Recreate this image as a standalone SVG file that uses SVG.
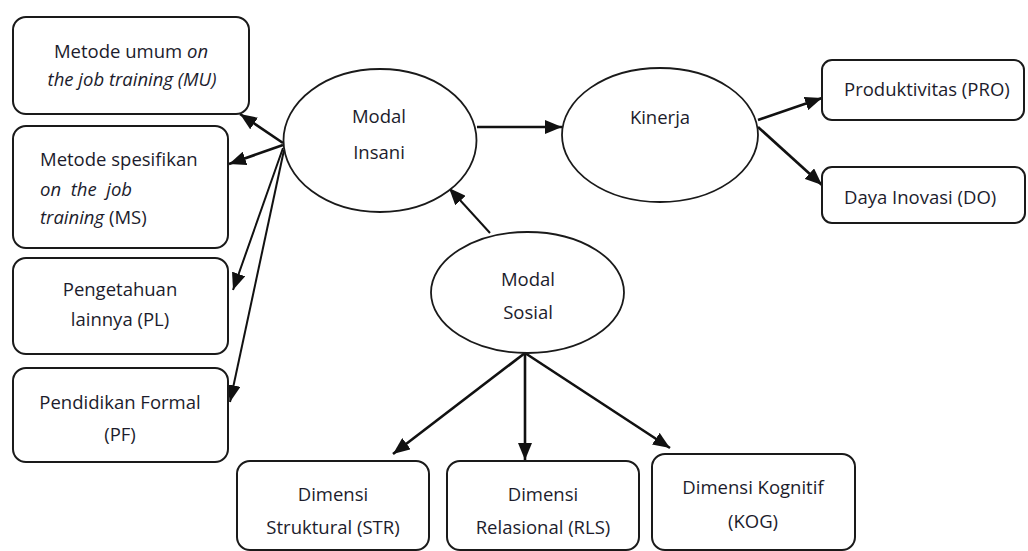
<svg xmlns="http://www.w3.org/2000/svg" width="1028" height="551" viewBox="0 0 1028 551">
<style>
.box{fill:#fff;stroke:#1a1a1a;stroke-width:2}
.ell{fill:#fff;stroke:#1a1a1a;stroke-width:1.8}
.t{font-family:"Open Sans","Noto Sans","Liberation Sans",sans-serif;font-size:18.5px;fill:#1c1c2c}
.c{text-anchor:middle}
.i{font-style:italic}
.conn line{stroke:#111;stroke-width:2.6;marker-end:url(#ah)}
.conn line.thin{stroke-width:2}
</style>
<defs>
<marker id="ah" markerUnits="userSpaceOnUse" markerWidth="17" markerHeight="14" refX="17" refY="7" orient="auto">
<path d="M0,0 L17,7 L0,14 z" fill="#111"/>
</marker>
</defs>
<rect width="1028" height="551" fill="#fff"/>
<g id="connectors" class="conn">
<line x1="477" y1="127" x2="562" y2="127"/>
<line x1="283" y1="143" x2="240" y2="114"/>
<line x1="283" y1="145" x2="229" y2="164"/>
<line class="thin" x1="283" y1="148" x2="233" y2="290"/>
<line class="thin" x1="284" y1="150" x2="230" y2="402"/>
<line class="thin" x1="490" y1="233" x2="449" y2="188"/>
<line x1="758" y1="120" x2="822" y2="98"/>
<line x1="758" y1="127" x2="822" y2="185"/>
<line x1="525" y1="353" x2="393" y2="454"/>
<line x1="525" y1="353" x2="525" y2="460"/>
<line x1="525" y1="353" x2="670" y2="448"/>
</g>
<g id="MU"><rect class="box" x="13" y="17" width="236" height="97" rx="13"/>
<text class="t c" x="131" y="58">Metode umum <tspan class="i">on</tspan></text>
<text class="t c i" x="132" y="86">the job training (MU)</text></g>
<g id="MS"><rect class="box" x="13" y="126" width="215" height="122" rx="13"/>
<text class="t" x="40" y="166">Metode spesifikan</text>
<text class="t i" x="40" y="196" xml:space="preserve">on  the  job</text>
<text class="t" x="40" y="224"><tspan class="i">training</tspan> (MS)</text></g>
<g id="PL"><rect class="box" x="13" y="258" width="215" height="96" rx="13"/>
<text class="t c" x="120" y="296">Pengetahuan</text>
<text class="t c" x="120" y="326">lainnya (PL)</text></g>
<g id="PF"><rect class="box" x="13" y="368" width="215" height="94" rx="13"/>
<text class="t c" x="120" y="409">Pendidikan Formal</text>
<text class="t c" x="120" y="441">(PF)</text></g>
<g id="ModalInsani"><ellipse class="ell" cx="380" cy="140.5" rx="96.5" ry="71.5"/>
<text class="t c" x="379" y="123">Modal</text>
<text class="t c" x="379" y="159">Insani</text></g>
<g id="Kinerja"><ellipse class="ell" cx="660" cy="135" rx="98" ry="67"/>
<text class="t c" x="660" y="124">Kinerja</text></g>
<g id="ModalSosial"><ellipse class="ell" cx="527.5" cy="292.5" rx="96.5" ry="60.5"/>
<text class="t c" x="528" y="286">Modal</text>
<text class="t c" x="528" y="319">Sosial</text></g>
<g id="PRO"><rect class="box" x="822" y="60" width="202" height="60" rx="10"/>
<text class="t" x="844" y="96">Produktivitas (PRO)</text></g>
<g id="DO"><rect class="box" x="822" y="167" width="203" height="56" rx="10"/>
<text class="t" x="844" y="204">Daya Inovasi (DO)</text></g>
<g id="STR"><rect class="box" x="237" y="461" width="192" height="89" rx="13"/>
<text class="t c" x="333" y="501">Dimensi</text>
<text class="t c" x="333" y="534">Struktural (STR)</text></g>
<g id="RLS"><rect class="box" x="447" y="461" width="192" height="89" rx="13"/>
<text class="t c" x="543" y="501">Dimensi</text>
<text class="t c" x="543" y="534">Relasional (RLS)</text></g>
<g id="KOG"><rect class="box" x="652" y="454" width="203" height="96" rx="13"/>
<text class="t c" x="753" y="494">Dimensi Kognitif</text>
<text class="t c" x="753" y="528">(KOG)</text></g>
</svg>
